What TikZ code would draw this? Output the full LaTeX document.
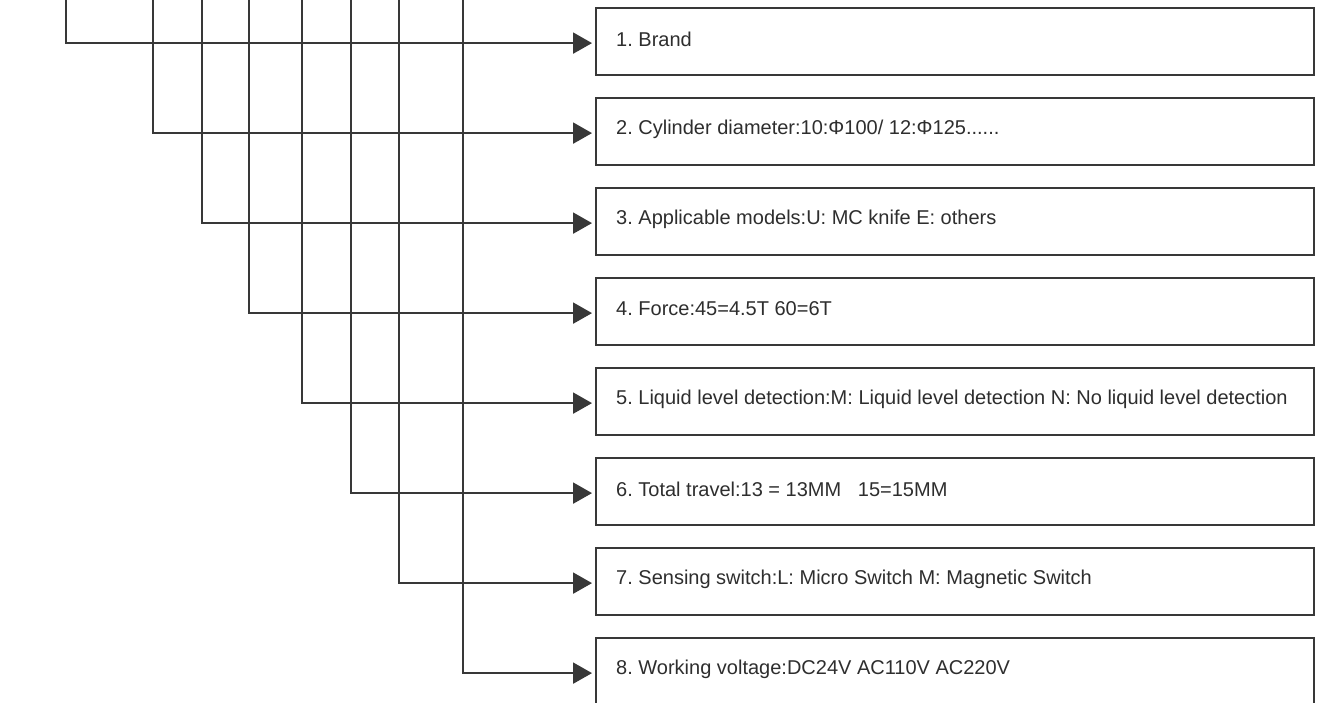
\documentclass[tikz,border=0pt]{standalone}
\usepackage{fontspec}
\setmainfont{Liberation Sans}
\usetikzlibrary{arrows.meta}
\definecolor{ln}{HTML}{383838}
\definecolor{tx}{HTML}{2E2E2E}
\tikzset{
  box/.style={draw=ln, line width=2.2pt, minimum width=718pt, minimum height=67pt, anchor=north west, inner sep=0pt},
  lbl/.style={anchor=west, inner sep=0pt, font=\fontsize{20}{24}\selectfont, text=tx, yshift=2.5pt},
  conn/.style={draw=ln, line width=2.1pt, -{Triangle[length=19pt,width=21pt]}, shorten >=3pt}
}
\begin{document}
\frenchspacing
\begin{tikzpicture}[x=1pt,y=-1pt]
\useasboundingbox (0,0) rectangle (1338,702);
\clip (0,0) rectangle (1338,702);
\fill[white] (0,0) rectangle (1338,702);
\node[box] (b1) at (595,7) {};
\node[box] (b2) at (595,97) {};
\node[box] (b3) at (595,187) {};
\node[box] (b4) at (595,277) {};
\node[box] (b5) at (595,367) {};
\node[box] (b6) at (595,457) {};
\node[box] (b7) at (595,547) {};
\node[box] (b8) at (595,637) {};
\node[lbl] (l1) at ([xshift=21pt]b1.west) {1. Brand};
\node[lbl] (l2) at ([xshift=21pt]b2.west) {2. Cylinder diameter:10:Φ100/ 12:Φ125......};
\node[lbl] (l3) at ([xshift=21pt]b3.west) {3. Applicable models:U: MC knife E: others};
\node[lbl] (l4) at ([xshift=21pt]b4.west) {4. Force:45=4.5T 60=6T};
\node[lbl] (l5) at ([xshift=21pt]b5.west) {5. Liquid level detection:M: Liquid level detection N: No liquid level detection};
\node[lbl] (l6) at ([xshift=21pt]b6.west) {6. Total travel:13 = 13MM\ \ \ 15=15MM};
\node[lbl] (l7) at ([xshift=21pt]b7.west) {7. Sensing switch:L: Micro Switch M: Magnetic Switch};
\node[lbl] (l8) at ([xshift=21pt]b8.west) {8. Working voltage:DC24V AC110V AC220V};
\coordinate (t1) at (66,-5);
\coordinate (t2) at (153,-5);
\coordinate (t3) at (202,-5);
\coordinate (t4) at (249,-5);
\coordinate (t5) at (302,-5);
\coordinate (t6) at (351,-5);
\coordinate (t7) at (399,-5);
\coordinate (t8) at (463,-5);
\foreach \i in {1,...,8}{
  \draw[conn] (t\i) |- ([yshift=-1.5pt]b\i.west);
}
\end{tikzpicture}
\end{document}
